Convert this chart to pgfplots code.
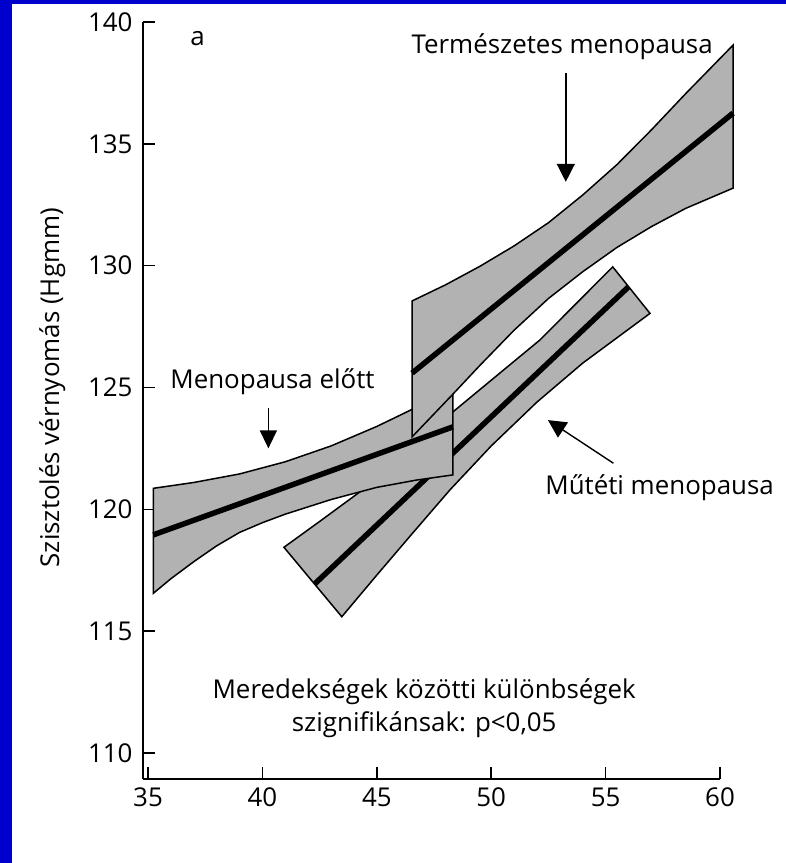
\documentclass[border=0pt]{standalone}
\usepackage{pgfplots}
\pgfplotsset{compat=1.18}
\usepackage{fontspec}
\setmainfont{Open Sans}
\usetikzlibrary{arrows.meta}
\definecolor{bgblue}{RGB}{0,0,204}
\definecolor{bandgray}{RGB}{178,178,178}
\newcommand{\bigf}{\fontsize{26}{31}\selectfont}
\begin{document}
\begin{tikzpicture}[x=1bp,y=1bp]
\fill[white] (0,0) rectangle (786,863);
\fill[bgblue] (0,0) rectangle (12,863);
\fill[bgblue] (0,859) rectangle (786,863);
\begin{axis}[
  at={(143bp,84bp)}, anchor=south west,
  width=577bp, height=757bp, scale only axis,
  xmin=34.78, xmax=60, ymin=108.93, ymax=140,
  axis x line=bottom, axis y line=left,
  axis line style={line width=1.5bp, -, black},
  xtick={35,40,45,50,55,60}, ytick={110,115,120,125,130,135,140},
  tick align=inside, major tick length=12bp,
  tick style={line width=1.5bp, black},
  clip=false, no markers,
  /pgf/number format/assume math mode=true,
  ticklabel style={font=\bigf},
  yticklabel style={xshift=-7bp},
  xticklabel style={yshift=-5bp},
  ylabel={Szisztolés vérnyomás (Hgmm)},
  ylabel style={at={(axis description cs:-0.157,0.517)}, anchor=center, font=\bigf},
]
% Band 3: Műtéti menopausa
\addplot[fill=bandgray, draw=black, line width=1.5bp] coordinates {
 (40.94,118.44) (42.5,119.5) (44.27,120.72) (46.3,122.36) (48.42,124.07) (50.3,125.53) (52.13,126.95) (53.7,128.43) (55.31,129.95)
 (56.94,128.04) (54,126.0) (52,124.4) (50,122.6) (48.2,120.8) (46.5,118.95) (45,117.3) (43.47,115.59)} -- cycle;
\addplot[black, line width=5.5bp] coordinates {(42.3,116.95) (55.99,129.12)};
% Band 1: Menopausa előtt
\addplot[fill=bandgray, draw=black, line width=1.5bp] coordinates {
 (35.23,116.55) (35.23,120.86) (37,121.1) (39,121.45) (41,121.95) (43,122.6) (45,123.4) (46.54,124.1) (48.32,124.77)
 (48.32,121.41) (46.74,121.2) (45,120.9) (44,120.65) (43,120.4) (42,120.1) (41,119.8) (40,119.45) (39,119.05) (38,118.5) (37,117.85) (36,117.15)} -- cycle;
\addplot[black, line width=5.5bp] coordinates {(35.23,118.95) (48.32,123.38)};
% Band 2: Természetes menopausa
\addplot[fill=bandgray, draw=black, line width=1.5bp] coordinates {
 (46.54,122.97) (46.54,128.55) (48,129.21) (49.5,129.97) (51,130.81) (52.5,131.76) (54,132.9) (55.5,134.15) (57,135.57) (58.5,137.06) (60.57,139.05)
 (60.57,133.18) (58.5,132.35) (57,131.6) (55.5,130.75) (54,129.75) (52.5,128.65) (51,127.35) (49.5,125.9) (48.3,124.7)} -- cycle;
\addplot[black, line width=5.5bp] coordinates {(46.54,125.59) (60.57,136.26)};
% annotations
\node[font=\bigf, anchor=base] at (axis cs:37.16,139.04) {a};
\node[font=\bigf, anchor=base] at (axis cs:53.1,138.71) {Természetes menopausa};
\draw[line width=1.4bp, -{Triangle[width=18bp,length=18bp]}] (axis cs:53.26,137.9) -- (axis cs:53.26,133.44);
\node[font=\bigf, anchor=base] at (axis cs:40.44,124.96) {Menopausa előtt};
\draw[line width=1.4bp, -{Triangle[width=17bp,length=18bp]}] (axis cs:40.26,124.16) -- (axis cs:40.26,122.5);
\node[font=\bigf, anchor=base] at (axis cs:57.36,120.59) {Műtéti menopausa};
\draw[line width=1.4bp, -{Triangle[width=18bp,length=18bp]}] (axis cs:55.34,121.89) -- (axis cs:52.48,123.66);
\node[font=\bigf, anchor=base] at (axis cs:47.07,112.22) {Meredekségek közötti különbségek};
\node[font=\bigf, anchor=base] at (axis cs:47.07,110.87) {szignifikánsak: p<0,05};
\end{axis}
\end{tikzpicture}
\end{document}
